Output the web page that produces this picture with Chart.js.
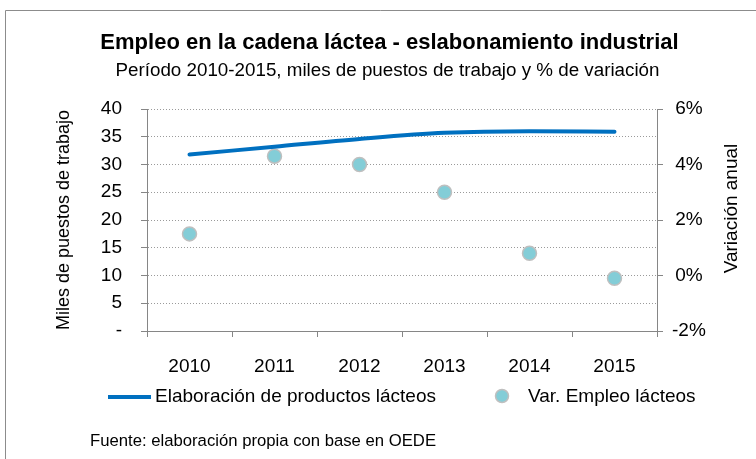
<!DOCTYPE html>
<html>
<head>
<meta charset="utf-8">
<script src="https://cdn.jsdelivr.net/npm/chart.js@4/dist/chart.umd.min.js"></script>
<style>
  html, body { margin: 0; padding: 0; background: #fff; }
</style>
</head>
<body>
<canvas id="chart" width="756" height="459"></canvas>
<script>
// datos
const years = ["2010", "2011", "2012", "2013", "2014", "2015"];
const empleoLacteos = [31.8, 33.2, 34.6, 35.7, 36.0, 35.9];   // miles de puestos
const varEmpleo = [1.5, 4.3, 4.0, 3.0, 0.8, -0.1];             // % variación anual

const FONT = "'Liberation Sans', Arial, sans-serif";
const AXIS_GRAY = "#868686";

// título, leyenda, fuente y marco dibujados a mano
const decor = {
  id: "decor",
  beforeDraw(chart) {
    const ctx = chart.ctx;
    ctx.save();
    ctx.fillStyle = "#fff";
    ctx.fillRect(0, 0, chart.width, chart.height);
    ctx.strokeStyle = "#8c8c8c";
    ctx.lineWidth = 1;
    ctx.beginPath();
    ctx.moveTo(5.5, chart.height);
    ctx.lineTo(5.5, 10.5);
    ctx.lineTo(chart.width, 10.5);
    ctx.stroke();
    ctx.restore();
  },
  afterDraw(chart) {
    const ctx = chart.ctx;
    const ds = chart.data.datasets;
    ctx.save();
    ctx.fillStyle = "#000";
    ctx.textBaseline = "middle";

    ctx.textAlign = "center";
    ctx.font = "bold 22px " + FONT;
    ctx.fillText("Empleo en la cadena láctea - eslabonamiento industrial", 389.5, 43);
    ctx.font = "18.8px " + FONT;
    ctx.fillText("Período 2010-2015, miles de puestos de trabajo y % de variación", 387.5, 71);

    // título eje derecho (leído de abajo hacia arriba)
    ctx.save();
    ctx.translate(732, 208.5);
    ctx.rotate(-Math.PI / 2);
    ctx.font = "19px " + FONT;
    ctx.fillText("Variación anual", 0, 0);
    ctx.restore();

    // leyenda
    ctx.strokeStyle = ds[0].borderColor;
    ctx.lineWidth = 4;
    ctx.beginPath();
    ctx.moveTo(108, 397);
    ctx.lineTo(151, 397);
    ctx.stroke();
    ctx.textAlign = "left";
    ctx.font = "19px " + FONT;
    ctx.fillText(ds[0].label, 155, 397);

    ctx.beginPath();
    ctx.arc(502, 396, 6.5, 0, Math.PI * 2);
    ctx.fillStyle = ds[1].pointBackgroundColor;
    ctx.fill();
    ctx.lineWidth = 1.5;
    ctx.strokeStyle = ds[1].pointBorderColor;
    ctx.stroke();
    ctx.fillStyle = "#000";
    ctx.fillText(ds[1].label, 528, 397);

    ctx.font = "16.7px " + FONT;
    ctx.fillText("Fuente: elaboración propia con base en OEDE", 90, 441);
    ctx.restore();
  }
};

new Chart(document.getElementById("chart"), {
  type: "line",
  data: {
    labels: years,
    datasets: [
      {
        label: "Elaboración de productos lácteos",
        data: empleoLacteos,
        yAxisID: "y",
        borderColor: "#0070C0",
        borderWidth: 4,
        borderCapStyle: "round",
        pointRadius: 0,
        tension: 0.4,
        cubicInterpolationMode: "monotone",
        fill: false
      },
      {
        label: "Var. Empleo lácteos",
        data: varEmpleo,
        yAxisID: "y1",
        showLine: false,
        pointRadius: 7,
        pointBackgroundColor: "#83CDD7",
        pointBorderColor: "#BFBFBF",
        pointBorderWidth: 1.5
      }
    ]
  },
  options: {
    responsive: false,
    animation: false,
    layout: { padding: { top: 109, left: 0, right: 0, bottom: 0 } },
    plugins: {
      legend: { display: false },
      tooltip: { enabled: false }
    },
    scales: {
      x: {
        offset: true,
        grid: { offset: true, drawOnChartArea: false, tickLength: 6, color: AXIS_GRAY },
        border: { color: AXIS_GRAY, width: 1 },
        ticks: { color: "#000", font: { family: FONT, size: 19 }, padding: 18, maxRotation: 0 },
        afterFit(s) { s.height = 128; }
      },
      y: {
        position: "left",
        min: 0,
        max: 40,
        grid: { color: "#9a9a9a", tickColor: AXIS_GRAY, tickLength: 6 },
        border: { color: AXIS_GRAY, width: 1, dash: [1, 2] },
        ticks: {
          stepSize: 5,
          color: "#000",
          padding: 19,
          font: { family: FONT, size: 19 },
          callback: v => (v === 0 ? "-" : v)
        },
        title: {
          display: true,
          text: "Miles de puestos de trabajo",
          color: "#000",
          font: { family: FONT, size: 18 },
          padding: { top: 53, bottom: 0 }
        },
        afterFit(s) { s.width = 147; }
      },
      y1: {
        position: "right",
        min: -2,
        max: 6,
        grid: { drawOnChartArea: false, color: AXIS_GRAY, tickLength: 6 },
        border: { color: AXIS_GRAY, width: 1 },
        ticks: {
          stepSize: 2,
          color: "#000",
          padding: 9,
          crossAlign: "center",
          font: { family: FONT, size: 19 },
          callback: v => v + "%"
        },
        afterFit(s) { s.width = 99; }
      }
    }
  },
  plugins: [decor]
});
</script>
</body>
</html>
